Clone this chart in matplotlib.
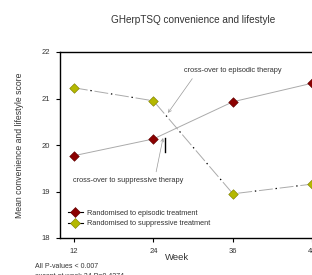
import matplotlib
matplotlib.use("Agg")
import matplotlib.pyplot as plt
from matplotlib.lines import Line2D

plt.rcParams['font.family'] = ['Liberation Sans', 'DejaVu Sans']
plt.rcParams['lines.scale_dashes'] = False

weeks = [12, 24, 36, 48]
episodic = [19.77, 20.13, 20.93, 21.33]
suppressive = [21.23, 20.95, 18.95, 19.16]
yticks = [18, 19, 20, 21, 22]
title = "GHerpTSQ convenience and lifestyle"
ylabel = "Mean convenience and lifestyle score"
xlabel = "Week"
leg_labels = ["Randomised to episodic treatment", "Randomised to suppressive treatment"]
footnote = ["All P-values < 0.007", "except at week 24 P=0.4274"]

red = "#8b0000"
yel = "#b4b800"
txtc = "#333333"

fig = plt.figure(figsize=(3.12, 2.75), dpi=100)
ax = fig.add_axes([60/312, 1-238/275, 265.7/312, (238-52)/275])
ax.set_xlim(9.9, 50)
ax.set_ylim(18, 22)

ax.plot(weeks, episodic, color="#aaaaaa", lw=0.7, zorder=2)
ax.plot(weeks, suppressive, color="#aaaaaa", lw=0.7, ls=(0, (10, 5)), zorder=2)
ax.plot(weeks, suppressive, color="black", lw=0.9, ls=(3, (1, 14)), zorder=2)
ax.scatter(weeks, episodic, marker="D", s=24, color=red, edgecolor="#5a0000", lw=0.4, zorder=3)
ax.scatter(weeks, suppressive, marker="D", s=24, color=yel, edgecolor="#7a7a00", lw=0.4, zorder=3)

ax.spines["right"].set_visible(False)
for s in ["left", "bottom", "top"]:
    ax.spines[s].set_linewidth(1.0)

ax.set_xticks(weeks)
ax.set_xticklabels([str(w) for w in weeks], fontsize=5.5, color=txtc)
ax.set_yticks(yticks)
ax.set_yticklabels([str(y) for y in yticks], fontsize=5.5, color=txtc)
ax.tick_params(axis="both", direction="out", length=3, width=0.8, pad=4)

fig.text(193/312, 1-20/275, title, ha="center", va="center", fontsize=7.2, color=txtc)
fig.text(20/312, 1-145/275, ylabel, ha="center", va="center", rotation=90, fontsize=6.2, color=txtc)
fig.text(177/312, 1-257/275, xlabel, ha="center", va="center", fontsize=6.8, color=txtc)
fig.text(35/312, 1-266/275, footnote[0], ha="left", va="center", fontsize=5, color=txtc)
fig.text(35/312, 1-276/275, footnote[1], ha="left", va="center", fontsize=5, color=txtc)

ax.annotate("cross-over to episodic therapy", xy=(26.2, 20.69), xytext=(36.0, 21.61),
            fontsize=5.3, color=txtc, ha="center", va="center",
            arrowprops=dict(arrowstyle="->", color="#999999", lw=0.5, shrinkA=2, shrinkB=0,
                            relpos=(0.12, 0.0)))
ax.annotate("cross-over to suppressive therapy", xy=(25.45, 20.15), xytext=(20.16, 19.23),
            fontsize=5.3, color=txtc, ha="center", va="center",
            arrowprops=dict(arrowstyle="->", color="#999999", lw=0.5, shrinkA=2, shrinkB=0,
                            relpos=(0.745, 1.0)))
ax.plot([25.75, 25.75], [19.85, 20.15], color="black", lw=1.0, zorder=4)

handles = [Line2D([], [], color="black", lw=0.8, marker="D", markersize=4.7,
                  markerfacecolor=red, markeredgecolor="#5a0000", markeredgewidth=0.4),
           Line2D([], [], color="black", lw=0.8, marker="D", markersize=4.7,
                  markerfacecolor=yel, markeredgecolor="#7a7a00", markeredgewidth=0.4)]
ax.legend(handles, leg_labels, loc="lower left", bbox_to_anchor=(0.01, 0.03), frameon=False,
          fontsize=5.3, handlelength=2.0, handletextpad=0.6, labelspacing=0.45, borderaxespad=0.3,
          labelcolor=txtc)

fig.savefig("out.png", dpi=100)
